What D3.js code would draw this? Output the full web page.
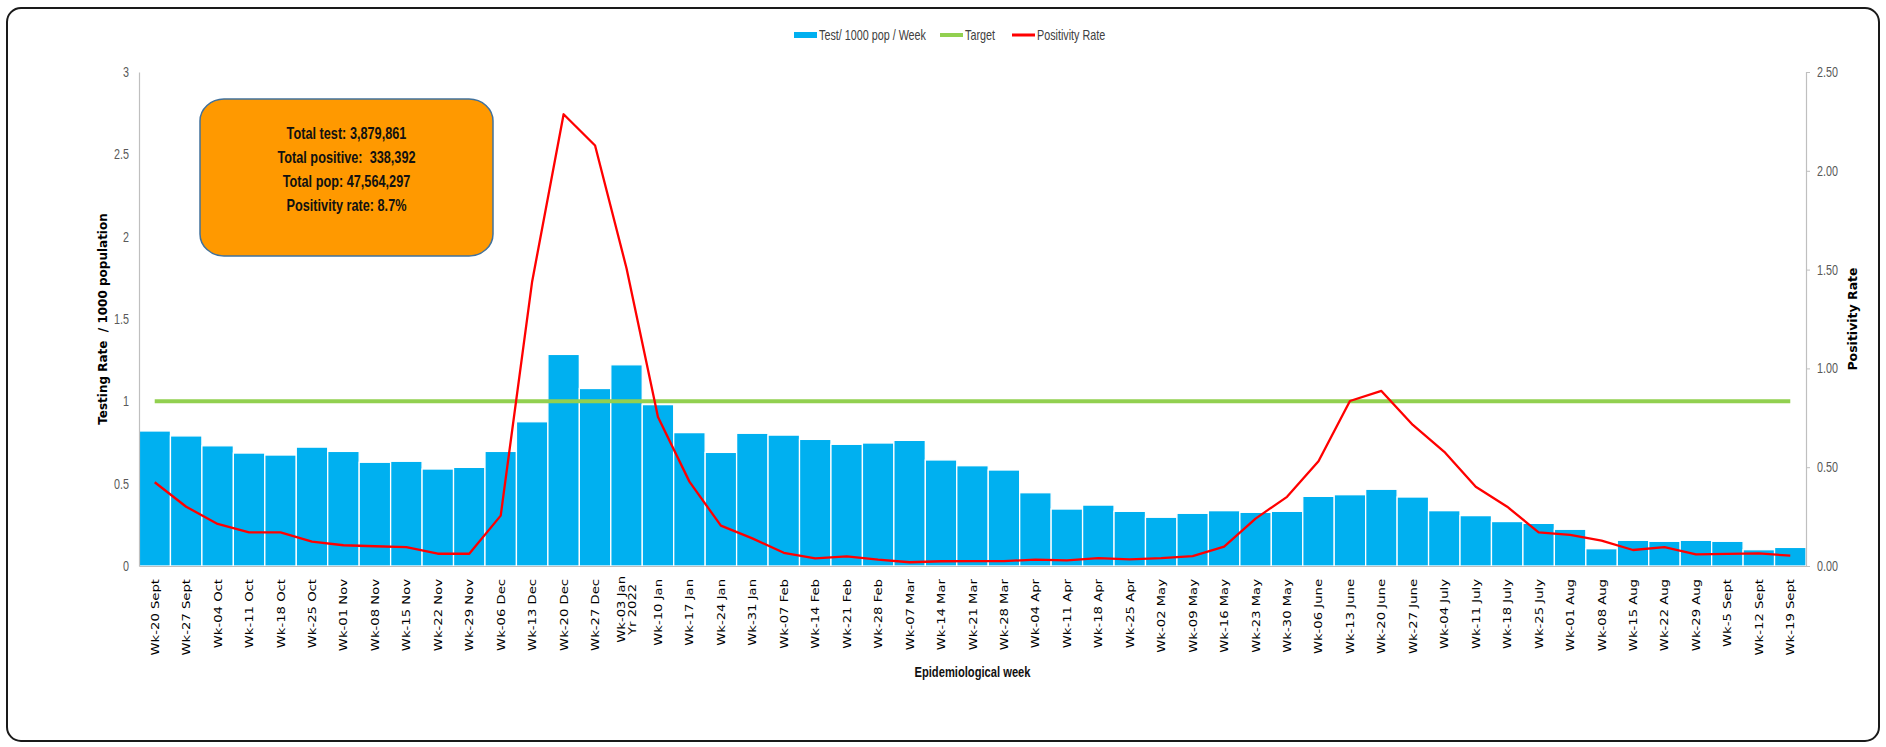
<!DOCTYPE html>
<html>
<head>
<meta charset="utf-8">
<script src="https://cdn.jsdelivr.net/npm/d3@7"></script>
<style>
  body { margin: 0; background: #fff; }
  svg { display: block; }
</style>
</head>
<body>
<script>
var width = 1886, height = 747;

// epidemiological weeks (x categories)
var weeks = ["Wk-20 Sept","Wk-27 Sept","Wk-04 Oct","Wk-11 Oct","Wk-18 Oct","Wk-25 Oct",
  "Wk-01 Nov","Wk-08 Nov","Wk-15 Nov","Wk-22 Nov","Wk-29 Nov","Wk-06 Dec","Wk-13 Dec",
  "Wk-20 Dec","Wk-27 Dec","Wk-03 Jan\nYr 2022","Wk-10 Jan","Wk-17 Jan","Wk-24 Jan","Wk-31 Jan",
  "Wk-07 Feb","Wk-14 Feb","Wk-21 Feb","Wk-28 Feb","Wk-07 Mar","Wk-14 Mar","Wk-21 Mar",
  "Wk-28 Mar","Wk-04 Apr","Wk-11 Apr","Wk-18 Apr","Wk-25 Apr","Wk-02 May","Wk-09 May",
  "Wk-16 May","Wk-23 May","Wk-30 May","Wk-06 June","Wk-13 June","Wk-20 June","Wk-27 June",
  "Wk-04 July","Wk-11 July","Wk-18 July","Wk-25 July","Wk-01 Aug","Wk-08 Aug","Wk-15 Aug",
  "Wk-22 Aug","Wk-29 Aug","Wk-5 Sept","Wk-12 Sept","Wk-19 Sept"];

// Test / 1000 pop / Week (left axis)
var testRate = [0.82,0.79,0.73,0.686,0.674,0.722,0.696,0.63,0.636,0.589,0.599,0.696,0.876,
  1.285,1.078,1.222,0.98,0.81,0.69,0.806,0.795,0.769,0.739,0.747,0.763,0.644,0.609,
  0.583,0.445,0.346,0.37,0.332,0.296,0.32,0.336,0.326,0.332,0.423,0.433,0.466,0.419,
  0.336,0.306,0.27,0.259,0.223,0.105,0.156,0.15,0.156,0.15,0.099,0.113];

// Positivity rate (right axis)
var positivity = [0.424,0.30,0.213,0.17,0.17,0.123,0.105,0.10,0.096,0.062,0.062,0.255,1.44,
  2.286,2.128,1.507,0.754,0.427,0.204,0.14,0.067,0.039,0.049,0.032,0.019,0.024,0.025,
  0.025,0.032,0.028,0.04,0.034,0.04,0.05,0.098,0.24,0.35,0.53,0.835,0.886,0.714,
  0.578,0.401,0.30,0.17,0.157,0.128,0.081,0.096,0.059,0.061,0.064,0.052];

var target = 1;
var leftTicks = [0,0.5,1,1.5,2,2.5,3];
var rightTicks = [0,0.5,1,1.5,2,2.5];
var legendItems = ["Test/ 1000 pop / Week","Target","Positivity Rate"];
var summaryLines = ["Total test: 3,879,861","Total positive:  338,392","Total pop: 47,564,297","Positivity rate: 8.7%"];

var margin = {top: 72, right: 80, bottom: 181, left: 139};
var sans = "'Liberation Sans', Arial, sans-serif";
var squeeze = 0.77; // the original text is horizontally condensed

var svg = d3.select("body").append("svg")
  .attr("width", width)
  .attr("height", height);

// condensed horizontal text at (x, y)
function ctext(parent, x, y, s){
  return parent.append("text")
    .attr("transform", "translate(" + x + "," + y + ") scale(" + squeeze + ",1)")
    .attr("font-family", sans)
    .style("white-space", "pre")
    .text(s);
}

// outer frame
svg.append("rect")
  .attr("x", 7).attr("y", 8)
  .attr("width", width - 14).attr("height", height - 14)
  .attr("rx", 14)
  .attr("fill", "#fff")
  .attr("stroke", "#1a1a1a")
  .attr("stroke-width", 2);

var x = d3.scaleBand().domain(weeks).range([margin.left, width - margin.right]).padding(0);
var yL = d3.scaleLinear().domain([0, 3]).range([height - margin.bottom, margin.top]);
var yR = d3.scaleLinear().domain([0, 2.5]).range([height - margin.bottom, margin.top]);
var cx = function(d){ return x(d) + x.bandwidth() / 2; };

// bars
svg.append("g")
  .selectAll("rect")
  .data(weeks)
  .enter()
  .append("rect")
  .attr("x", function(d){ return x(d); })
  .attr("y", function(d, i){ return yL(testRate[i]); })
  .attr("width", x.bandwidth())
  .attr("height", function(d, i){ return yL(0) - yL(testRate[i]); })
  .attr("fill", "#00B0F0")
  .attr("stroke", "#ffffff")
  .attr("stroke-width", 1.3);

// left axis
var gL = svg.append("g")
  .attr("transform", "translate(" + margin.left + ",0)")
  .call(d3.axisLeft(yL).tickValues(leftTicks).tickSize(0).tickPadding(10).tickFormat(d3.format("")));
gL.select(".domain").attr("stroke", "#BFBFBF").attr("stroke-width", 1.2);
gL.selectAll("text")
  .attr("font-family", sans).attr("font-size", 14).attr("fill", "#595959")
  .attr("x", -10 / squeeze).attr("transform", "scale(" + squeeze + ",1)");

// right axis
var gR = svg.append("g")
  .attr("transform", "translate(" + (width - margin.right) + ",0)")
  .call(d3.axisRight(yR).tickValues(rightTicks).tickSize(4).tickPadding(7).tickFormat(d3.format(".2f")));
gR.select(".domain").attr("stroke", "#BFBFBF").attr("stroke-width", 1.2);
gR.selectAll("line").attr("stroke", "#BFBFBF");
gR.selectAll("text")
  .attr("font-family", sans).attr("font-size", 14).attr("fill", "#595959")
  .attr("x", 11 / squeeze).attr("transform", "scale(" + squeeze + ",1)");

// x axis
var gX = svg.append("g")
  .attr("transform", "translate(0," + (height - margin.bottom) + ")")
  .call(d3.axisBottom(x).tickSize(0).tickFormat(""));
gX.select(".domain").attr("stroke", "#BFBFBF").attr("stroke-width", 1.2);

// x tick labels, rotated
weeks.forEach(function(w){
  var lines = w.split("\n");
  var t = svg.append("text")
    .attr("font-family", "'DejaVu Sans', sans-serif")
    .attr("font-size", 13.2)
    .attr("fill", "#000");
  var lh = 11;
  var ox = cx(w) - (lines.length - 1) * lh / 2 + 4;
  lines.forEach(function(l, k){
    t.append("tspan").attr("x", 0).attr("dy", k === 0 ? 0 : lh / 0.8).text(l);
  });
  if (lines.length === 1) {
    t.attr("text-anchor", "end")
     .attr("transform", "translate(" + ox + "," + (height - margin.bottom + 13) + ") rotate(-90) scale(1,0.8)");
  } else {
    var maxLen = 0;
    t.selectAll("tspan").each(function(){ maxLen = Math.max(maxLen, this.getComputedTextLength()); });
    t.attr("text-anchor", "middle")
     .attr("transform", "translate(" + ox + "," + (height - margin.bottom + 10 + maxLen / 2) + ") rotate(-90) scale(1,0.8)");
  }
});

// target line
svg.append("line")
  .attr("x1", cx(weeks[0])).attr("x2", cx(weeks[weeks.length - 1]))
  .attr("y1", yL(target)).attr("y2", yL(target))
  .attr("stroke", "#92D050")
  .attr("stroke-width", 4);

// positivity line
var line = d3.line()
  .x(function(d, i){ return cx(weeks[i]); })
  .y(function(d){ return yR(d); });
svg.append("path")
  .datum(positivity)
  .attr("d", line)
  .attr("fill", "none")
  .attr("stroke", "#FF0000")
  .attr("stroke-width", 2.3)
  .attr("stroke-linejoin", "round");

// axis titles
svg.append("text")
  .attr("transform", "translate(107," + ((yL(0) + yL(3)) / 2) + ") rotate(-90)")
  .attr("text-anchor", "middle")
  .attr("font-family", "'DejaVu Sans', sans-serif")
  .attr("font-weight", "bold")
  .attr("font-size", 12)
  .style("white-space", "pre")
  .text("Testing Rate  / 1000 population");

svg.append("text")
  .attr("transform", "translate(1857," + ((yR(0) + yR(2.5)) / 2) + ") rotate(-90)")
  .attr("text-anchor", "middle")
  .attr("font-family", "'DejaVu Sans', sans-serif")
  .attr("font-weight", "bold")
  .attr("font-size", 12.5)
  .text("Positivity Rate");

ctext(svg, (margin.left + width - margin.right) / 2, 677, "Epidemiological week")
  .attr("text-anchor", "middle")
  .attr("font-weight", "bold")
  .attr("font-size", 14.5)
  .attr("fill", "#111");

// legend
var lgX = [794, 940, 1012];
var lgColors = ["#00B0F0", "#92D050", "#FF0000"];
var lgH = [6, 4, 3];
legendItems.forEach(function(s, i){
  svg.append("rect")
    .attr("x", lgX[i]).attr("y", 35 - lgH[i] / 2)
    .attr("width", 23).attr("height", lgH[i])
    .attr("fill", lgColors[i]);
  ctext(svg, lgX[i] + 25, 40, s)
    .attr("font-size", 14)
    .attr("fill", "#404040");
});

// summary box
var box = svg.append("g");
box.append("rect")
  .attr("x", 200).attr("y", 99)
  .attr("width", 293).attr("height", 157)
  .attr("rx", 24).attr("ry", 22)
  .attr("fill", "#FF9900")
  .attr("stroke", "#41719C")
  .attr("stroke-width", 1.5);
summaryLines.forEach(function(s, i){
  ctext(box, 346.5, 139 + i * 24, s)
    .attr("text-anchor", "middle")
    .attr("font-weight", "bold")
    .attr("font-size", 16.5)
    .attr("fill", "#111");
});
</script>
</body>
</html>
